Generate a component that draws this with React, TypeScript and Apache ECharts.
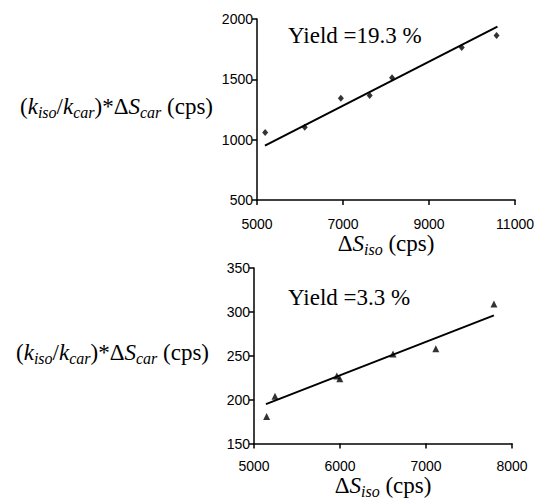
import React, { useEffect, useRef } from "react";
import * as echarts from "echarts";

// Top panel (Yield = 19.3 %)
const topX = [5190, 6110, 6950, 7620, 8140, 9760, 10570];
const topY = [1060, 1103, 1344, 1367, 1514, 1764, 1864];
const topFitX = [5185, 10590];
const topFitY = [950, 1936];
const topXTicks = { min: 5000, max: 11000, interval: 2000 };
const topYTicks = { min: 500, max: 2000, interval: 500 };

// Bottom panel (Yield = 3.3 %)
const botX = [5147, 5244, 5963, 5998, 6616, 7114, 7790];
const botY = [181, 204, 227, 224, 252, 258, 309];
const botFitX = [5139, 7790];
const botFitY = [195, 296];
const botXTicks = { min: 5000, max: 8000, interval: 1000 };
const botYTicks = { min: 150, max: 350, interval: 50 };

const yieldLabels = ["Yield =19.3 %", "Yield =3.3 %"];

const SERIF = "Liberation Serif";
const SANS = "Liberation Sans";

const rich = {
  n: { fontFamily: SERIF, fontSize: 23, color: "#000", lineHeight: 28 },
  i: { fontFamily: SERIF, fontSize: 23, fontStyle: "italic", color: "#000", lineHeight: 28 },
  s: {
    fontFamily: SERIF,
    fontSize: 16,
    fontStyle: "italic",
    color: "#000",
    lineHeight: 16,
    verticalAlign: "bottom",
  },
};
const richFill = {
  n: { ...rich.n, fill: "#000" },
  i: { ...rich.i, fill: "#000" },
  s: { ...rich.s, fill: "#000" },
};

const yName = "{n|(}{i|k}{s|iso}{n|/}{i|k}{s|car}{n|)*Δ}{i|S}{s|car}{n| (cps)}";
const xName = "{n|Δ}{i|S}{s|iso}{n| (cps)}";

function axisCommon(margin: number) {
  return {
    axisLine: { show: true, lineStyle: { color: "#000", width: 1.5 } },
    axisTick: { show: true, inside: false, length: 5, lineStyle: { color: "#000", width: 1.5 } },
    axisLabel: {
      color: "#000",
      fontFamily: SANS,
      fontSize: 14,
      margin,
      formatter: (v: number) => String(v),
    },
    splitLine: { show: false },
  };
}

export default function App() {
  const ref = useRef<HTMLDivElement>(null);
  useEffect(() => {
    const chart = echarts.init(ref.current!, undefined, { renderer: "svg" });
    const pair = (xs: number[], ys: number[]) => xs.map((x, i) => [x, ys[i]]);
    chart.setOption({
      animation: false,
      backgroundColor: "#fff",
      grid: [
        { left: 257, top: 19, width: 259, height: 181 },
        { left: 254, top: 268, width: 258, height: 180 },
      ],
      xAxis: [
        {
          type: "value",
          gridIndex: 0,
          ...topXTicks,
          ...axisCommon(17),
          name: xName,
          nameLocation: "middle",
          nameGap: 26,
          nameTextStyle: { rich },
        },
        {
          type: "value",
          gridIndex: 1,
          ...botXTicks,
          ...axisCommon(15),
          name: xName,
          nameLocation: "middle",
          nameGap: 20,
          nameTextStyle: { rich },
        },
      ],
      yAxis: [
        { type: "value", gridIndex: 0, ...topYTicks, ...axisCommon(4) },
        { type: "value", gridIndex: 1, ...botYTicks, ...axisCommon(4) },
      ],
      graphic: [
        {
          type: "text",
          x: 213,
          y: 106,
          style: { text: yName, rich: richFill, align: "right", verticalAlign: "middle" },
        },
        {
          type: "text",
          x: 209,
          y: 352,
          style: { text: yName, rich: richFill, align: "right", verticalAlign: "middle" },
        },
        {
          type: "text",
          left: 288,
          top: 24,
          style: { text: yieldLabels[0], fontFamily: SERIF, fontSize: 23, fill: "#000" },
        },
        {
          type: "text",
          left: 288,
          top: 286,
          style: { text: yieldLabels[1], fontFamily: SERIF, fontSize: 23, fill: "#000" },
        },
      ],
      series: [
        {
          type: "scatter",
          xAxisIndex: 0,
          yAxisIndex: 0,
          data: pair(topX, topY),
          symbol: "diamond",
          symbolSize: [6, 7],
          itemStyle: { color: "#000" },
        },
        {
          type: "line",
          xAxisIndex: 0,
          yAxisIndex: 0,
          data: pair(topFitX, topFitY),
          symbol: "none",
          lineStyle: { color: "#000", width: 2 },
        },
        {
          type: "scatter",
          xAxisIndex: 1,
          yAxisIndex: 1,
          data: pair(botX, botY),
          symbol: "triangle",
          symbolSize: [7, 7],
          itemStyle: { color: "#000" },
        },
        {
          type: "line",
          xAxisIndex: 1,
          yAxisIndex: 1,
          data: pair(botFitX, botFitY),
          symbol: "none",
          lineStyle: { color: "#000", width: 2 },
        },
      ],
    });
    return () => chart.dispose();
  }, []);
  return (
    <div
      ref={ref}
      style={{ position: "absolute", left: 0, top: 0, width: 537, height: 500 }}
    />
  );
}
